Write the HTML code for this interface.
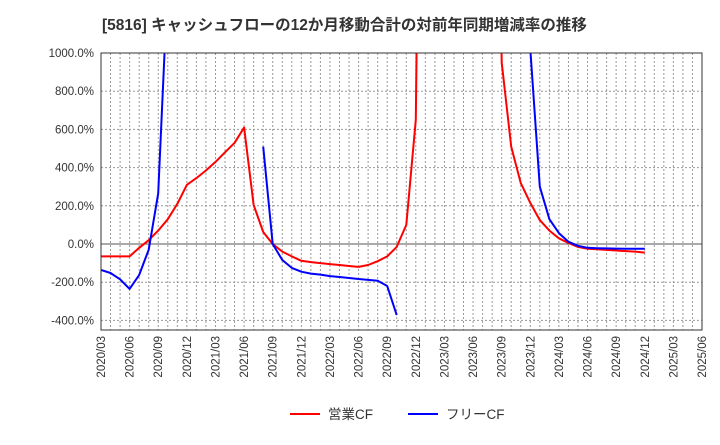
<!DOCTYPE html>
<html><head><meta charset="utf-8"><style>
body{margin:0;background:#fff;font-family:"Liberation Sans","Noto Sans CJK JP",sans-serif;}
</style></head><body>
<svg id="c" width="720" height="440" xmlns="http://www.w3.org/2000/svg"></svg>
<script>
const startYear=2020, startMonth=3;
const yTicks=[1000,800,600,400,200,0,-200,-400];
const opCF=[-65,-65,-65,-65,-20,20,70,130,210,310,345,385,430,480,530,610,205,63,0,-40,-65,-88,-95,-100,-105,-110,-115,-120,-110,-90,-65,-15,100,650,5000,5000,5000,5000,5000,5000,5000,5000,950,510,320,215,125,70,30,5,-15,-25,-28,-31,-34,-37,-40,-45];
const freeCF=[-136,-152,-185,-235,-162,-30,265,1380,null,null,null,null,null,null,null,null,null,510,0,-84,-125,-145,-155,-160,-168,-173,-178,-183,-188,-192,-220,-372,null,null,null,null,null,null,null,null,null,null,null,null,null,1020,300,130,57,12,-10,-20,-22,-23,-24,-25,-25,-25];
const NS="http://www.w3.org/2000/svg";
const svg=document.getElementById('c');
const L=101,R=702,T=53,B=330,nMonths=63;
const x=i=>L+i*(R-L)/nMonths;
const y=v=>244-v*(244-T)/1000;
function mk(tag,attrs,parent){const e=document.createElementNS(NS,tag);for(const k in attrs)e.setAttribute(k,attrs[k]);(parent||svg).appendChild(e);return e;}
const t=mk('text',{x:102,y:30,'font-size':15.5,'font-weight':'bold',fill:'#333'});


t.textContent='[5816]  キャッシュフローの12か月移動合計の対前年同期増減率の推移';
for(let i=0;i<=nMonths;i++){
  const g=mk('line',{x1:x(i),x2:x(i),y1:T,y2:B,stroke:'#999','stroke-dasharray':'2,2','stroke-width':1});
  
  
}
yTicks.forEach(v=>{
  const g=mk('line',{x1:L,x2:R,y1:y(v),y2:y(v),stroke:v===0?'#555':'#999','stroke-dasharray':v===0?'none':'2,2','stroke-width':1});
  
  
  const lb=mk('text',{x:L-7,y:y(v)+4,'text-anchor':'end','font-size':11.5,fill:'#333'});
  
  
  lb.textContent=v.toFixed(1)+'%';
});
for(let i=0;i<=nMonths;i+=3){
  const m=startMonth-1+i,yr=startYear+Math.floor(m/12),mo=m%12+1;
  const lb=mk('text',{transform:`translate(${x(i)+4},${B+6}) rotate(-90)`,'text-anchor':'end','font-size':11.5,fill:'#333'});
  
  
  lb.textContent=yr+'/'+String(mo).padStart(2,'0');
}
const defs=mk('defs',{});
const cp=mk('clipPath',{id:'pc'},defs);
mk('rect',{x:L,y:T,width:R-L,height:B-T},cp);
function series(arr,color,name){
  let d='',pen=false;
  arr.forEach((v,i)=>{if(v===null){pen=false;return;}d+=(pen?'L':'M')+x(i).toFixed(1)+','+y(v).toFixed(1);pen=true;});
  const p=mk('path',{d,fill:'none',stroke:color,'stroke-width':2,'clip-path':'url(#pc)','stroke-linejoin':'round'});
  
  
}
series(opCF,'#f00','operating-cf-line');
series(freeCF,'#00f','free-cf-line');
const fr=mk('rect',{x:L,y:T,width:R-L,height:B-T,fill:'none',stroke:'#333','stroke-width':1});


[[290,'#f00','営業CF','legend-operating-cf'],[408,'#00f','フリーCF','legend-free-cf']].forEach(([lx,c,txt,n])=>{
  const g=mk('g',{});
  
  
  mk('line',{x1:lx,x2:lx+30,y1:414,y2:414,stroke:c,'stroke-width':2},g);
  const tt=mk('text',{x:lx+38,y:419,'font-size':13.5,fill:'#333'},g);
  tt.textContent=txt;
});
</script>
</body></html>
